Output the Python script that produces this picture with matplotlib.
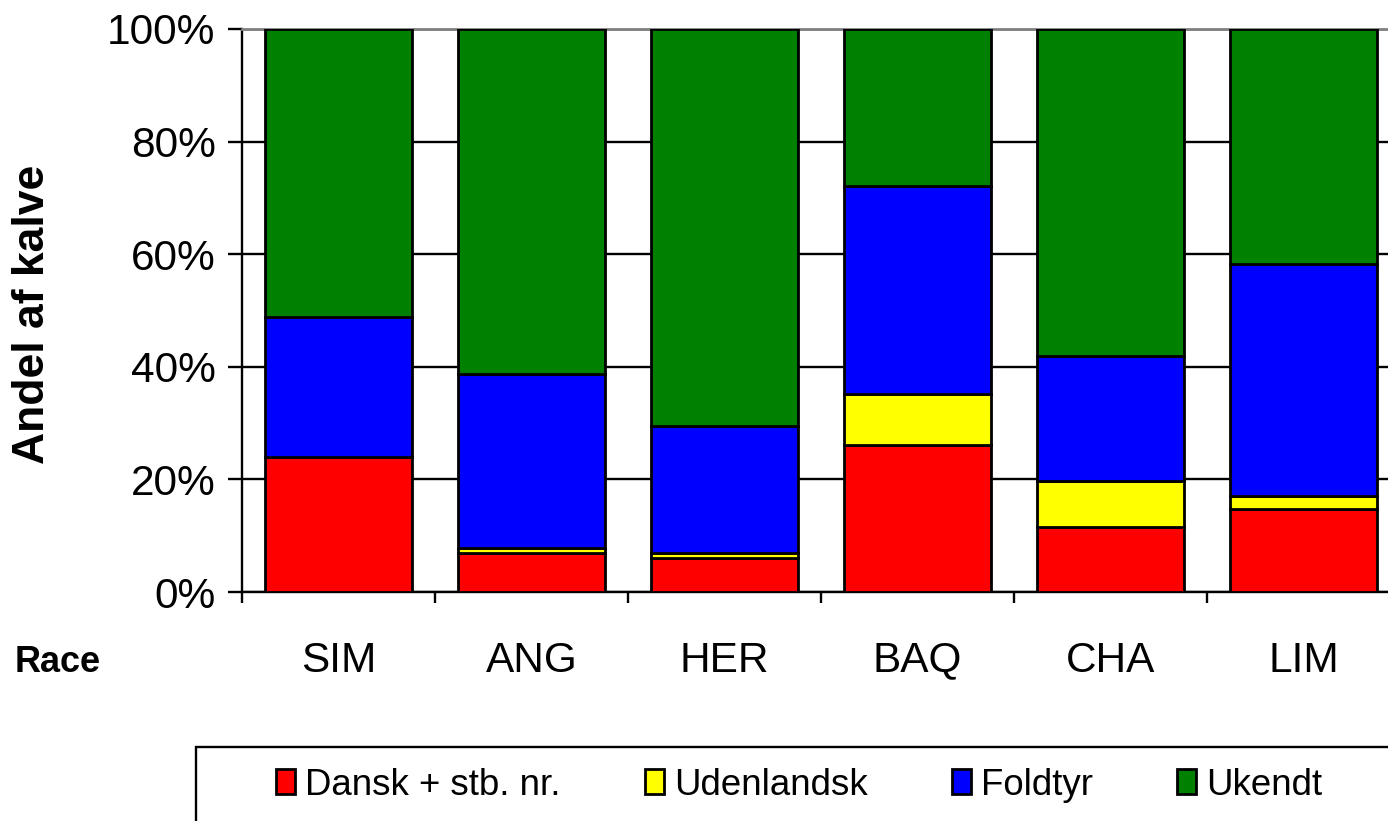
import numpy as np
import matplotlib
matplotlib.use("Agg")
import matplotlib.pyplot as plt
from matplotlib.patches import Rectangle
from matplotlib.ticker import PercentFormatter

plt.rcParams["font.family"] = ["Liberation Sans", "DejaVu Sans"]

# Data (% of calves per breed)
races = ["SIM", "ANG", "HER", "BAQ", "CHA", "LIM"]
dansk = [23.9, 6.9, 6.1, 26.1, 11.6, 14.8]
udenlandsk = [0.0, 1.0, 0.8, 9.1, 8.1, 2.3]
foldtyr = [24.9, 30.9, 22.5, 36.9, 22.3, 41.2]
ukendt = [100 - d - u - f for d, u, f in zip(dansk, udenlandsk, foldtyr)]

series_names = ["Dansk + stb. nr.", "Udenlandsk", "Foldtyr", "Ukendt"]
colors = ["#ff0000", "#ffff00", "#0000ff", "#008000"]

W, H = 1388, 821
fig = plt.figure(figsize=(W / 100, H / 100), dpi=100)
ax = fig.add_axes([242 / W, (H - 592) / H, (1400 - 242) / W, (592 - 29) / H])

x = np.arange(len(races))
bottom = np.zeros(len(races))
for name, vals, col in zip(series_names, [dansk, udenlandsk, foldtyr, ukendt], colors):
    ax.bar(x, vals, 0.76, bottom=bottom, color=col, edgecolor="black",
           linewidth=2.0, label=name, zorder=3)
    bottom += np.array(vals)

ax.set_xlim(-0.5, len(races) - 0.5)
ax.set_ylim(0, 100)
ax.set_yticks(np.arange(0, 101, 20))
ax.yaxis.set_major_formatter(PercentFormatter(decimals=0))
ax.grid(axis="y", color="black", linewidth=1.7, zorder=0)

ax.set_xticks(x)
ax.set_xticklabels(races)
ax.set_xticks(np.arange(-0.5, len(races), 1), minor=True)
ax.tick_params(axis="x", which="major", length=0, pad=35, labelsize=30.5)
ax.tick_params(axis="x", which="minor", length=8, width=1.7, direction="out")
ax.tick_params(axis="y", length=10, width=1.7, direction="out", pad=9, labelsize=30.5)

for side in ["left", "bottom"]:
    ax.spines[side].set_linewidth(1.7)
ax.spines["top"].set_color("#808080")
ax.spines["top"].set_linewidth(2)
ax.spines["right"].set_visible(False)

fig.text(33 / W, (H - 314) / H, "Andel af kalve", rotation=90, ha="center",
         va="center", fontsize=32, fontweight="bold")
fig.text(15 / W, (H - 672) / H, "Race", ha="left", va="baseline",
         fontsize=26, fontweight="bold")

# legend box runs off the bottom/right edge like in the original
fig.patches.append(Rectangle((196 / W, -0.1), 1.0, (H - 747) / H + 0.1,
                             transform=fig.transFigure, fill=False,
                             edgecolor="black", linewidth=1.7))
handles, labels = ax.get_legend_handles_labels()
fig.legend(handles, labels, ncol=4, loc="center left",
           bbox_to_anchor=(276 / W, (H - 785) / H), frameon=False,
           fontsize=26.4, handlelength=0.52, handleheight=0.65,
           handletextpad=0.27, columnspacing=2.3, borderpad=0,
           borderaxespad=0)

fig.savefig("out.png", dpi=100)
